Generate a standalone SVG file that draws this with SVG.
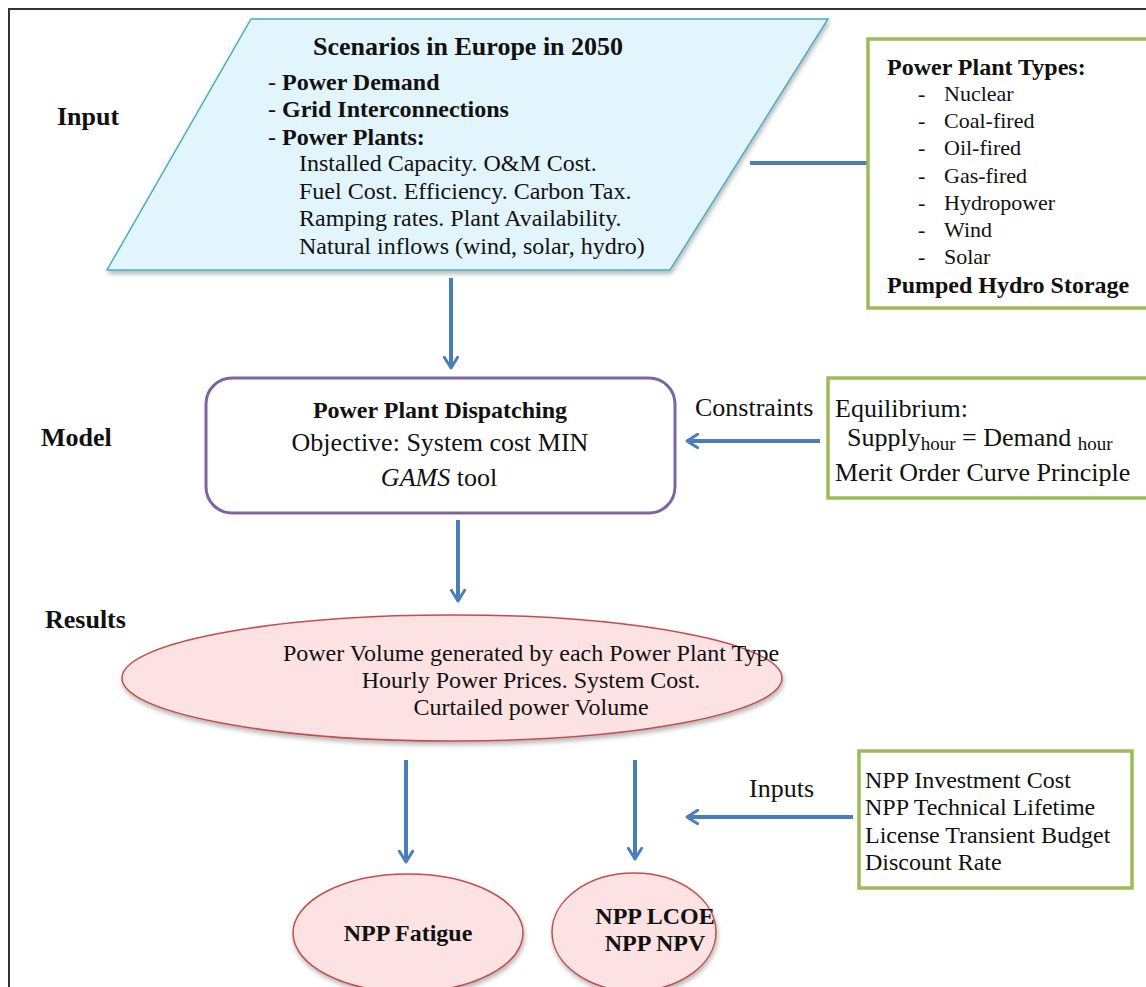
<svg xmlns="http://www.w3.org/2000/svg" width="1146" height="987" viewBox="0 0 1146 987">
<defs>
<style>
text{font-family:"Liberation Serif","Times New Roman",serif;fill:#111}
.b{font-weight:bold}
.t24{font-size:24px}
.t22{font-size:22px}
.t26{font-size:26px}
.lbl{font-size:26px;font-weight:bold}
.green{fill:#fff;stroke:#9BBB59;stroke-width:3.5}
.pink{fill:#FDE2E3;stroke:#C0504D;stroke-width:1.5}
.conn{stroke:#4A7EBB;stroke-width:4;fill:none}
</style>
<marker id="ah" viewBox="0 0 12 12" refX="9" refY="6" markerWidth="4" markerHeight="4" orient="auto" markerUnits="strokeWidth">
<path d="M1,1 L9,6 L1,11" fill="none" stroke="#4A7EBB" stroke-width="2.2" stroke-linecap="round" stroke-linejoin="round"/>
</marker>
<filter id="sh" x="-5%" y="-5%" width="112%" height="120%">
<feGaussianBlur in="SourceAlpha" stdDeviation="2.5"/>
<feOffset dx="1" dy="3"/>
<feComponentTransfer><feFuncA type="linear" slope="0.3"/></feComponentTransfer>
<feMerge><feMergeNode/><feMergeNode in="SourceGraphic"/></feMerge>
</filter>
</defs>
<rect x="0" y="0" width="1146" height="987" fill="#fff"/>
<rect id="frame" x="9" y="9" width="1150" height="990" fill="none" stroke="#333" stroke-width="2"/>

<g id="labels">
<text class="lbl" x="57" y="125">Input</text>
<text class="lbl" x="41" y="446">Model</text>
<text class="lbl" x="45" y="628">Results</text>
</g>

<g id="connectors">
<line class="conn" x1="750" y1="163" x2="868" y2="163"/>
<line class="conn" x1="451" y1="278" x2="451" y2="368" marker-end="url(#ah)"/>
<line class="conn" x1="820" y1="441" x2="687" y2="441" marker-end="url(#ah)"/>
<line class="conn" x1="458" y1="520" x2="458" y2="601" marker-end="url(#ah)"/>
<line class="conn" x1="406" y1="760" x2="406" y2="862" marker-end="url(#ah)"/>
<line class="conn" x1="635" y1="760" x2="635" y2="859" marker-end="url(#ah)"/>
<line class="conn" x1="853" y1="817" x2="687" y2="817" marker-end="url(#ah)"/>
<text class="t26" x="695" y="416">Constraints</text>
<text class="t26" x="749" y="797">Inputs</text>
</g>

<g id="scenarios">
<polygon points="251,19 828,19 670,270 107,270" fill="#E2F5FC" stroke="#4BACC6" stroke-width="1.5" filter="url(#sh)"/>
<text class="b t26" x="468" y="55" text-anchor="middle">Scenarios in Europe in 2050</text>
<text class="t24" x="268" y="90">- <tspan class="b">Power Demand</tspan></text>
<text class="t24" x="268" y="117">- <tspan class="b">Grid Interconnections</tspan></text>
<text class="t24" x="268" y="145">- <tspan class="b">Power Plants:</tspan></text>
<text class="t24" x="299" y="171">Installed Capacity. O&amp;M Cost.</text>
<text class="t24" x="299" y="199">Fuel Cost. Efficiency. Carbon Tax.</text>
<text class="t24" x="299" y="226">Ramping rates. Plant Availability.</text>
<text class="t24" x="299" y="254">Natural inflows (wind, solar, hydro)</text>
</g>

<g id="plant-types">
<rect class="green" x="868" y="39" width="290" height="269"/>
<text class="b t24" x="887" y="75">Power Plant Types:</text>
<g class="t22">
<text x="918" y="101">-</text><text x="944" y="101">Nuclear</text>
<text x="918" y="128">-</text><text x="944" y="128">Coal-fired</text>
<text x="918" y="155">-</text><text x="944" y="155">Oil-fired</text>
<text x="918" y="183">-</text><text x="944" y="183">Gas-fired</text>
<text x="918" y="210">-</text><text x="944" y="210">Hydropower</text>
<text x="918" y="237">-</text><text x="944" y="237">Wind</text>
<text x="918" y="264">-</text><text x="944" y="264">Solar</text>
</g>
<text class="b t24" x="887" y="293">Pumped Hydro Storage</text>
</g>

<g id="model">
<rect x="206" y="378" width="469" height="135" rx="26" fill="#fff" stroke="#8064A2" stroke-width="3"/>
<text class="b t24" x="440" y="418" text-anchor="middle">Power Plant Dispatching</text>
<text class="t26" x="440" y="451" text-anchor="middle">Objective: System cost MIN</text>
<text class="t26" x="439" y="486" text-anchor="middle"><tspan font-style="italic">GAMS</tspan> tool</text>
</g>

<g id="constraints">
<rect class="green" x="828" y="378" width="330" height="120"/>
<text class="t26" x="835" y="417">Equilibrium:</text>
<text class="t26" x="847" y="446">Supply<tspan font-size="19" dy="4">hour</tspan><tspan dy="-4"> = Demand </tspan><tspan font-size="19" dy="4">hour</tspan></text>
<text class="t26" x="835" y="481">Merit Order Curve Principle</text>
</g>

<g id="results">
<ellipse class="pink" cx="452" cy="678" rx="330" ry="63" filter="url(#sh)"/>
<text class="t24" x="531" y="661" text-anchor="middle">Power Volume generated by each Power Plant Type</text>
<text class="t24" x="531" y="688" text-anchor="middle">Hourly Power Prices. System Cost.</text>
<text class="t24" x="531" y="715" text-anchor="middle">Curtailed power Volume</text>
</g>

<g id="npp-inputs">
<rect class="green" x="859" y="751" width="273" height="137"/>
<text class="t24" x="865" y="788">NPP Investment Cost</text>
<text class="t24" x="865" y="815">NPP Technical Lifetime</text>
<text class="t24" x="865" y="843">License Transient Budget</text>
<text class="t24" x="865" y="870">Discount Rate</text>
</g>

<g id="npp-fatigue">
<ellipse class="pink" cx="408" cy="933" rx="115" ry="59" filter="url(#sh)"/>
<text class="b t24" x="408" y="941" text-anchor="middle">NPP Fatigue</text>
</g>

<g id="npp-lcoe">
<ellipse class="pink" cx="634" cy="932" rx="82" ry="59" filter="url(#sh)"/>
<text class="b t24" x="655" y="924" text-anchor="middle">NPP LCOE</text>
<text class="b t24" x="655" y="951" text-anchor="middle">NPP NPV</text>
</g>
</svg>
